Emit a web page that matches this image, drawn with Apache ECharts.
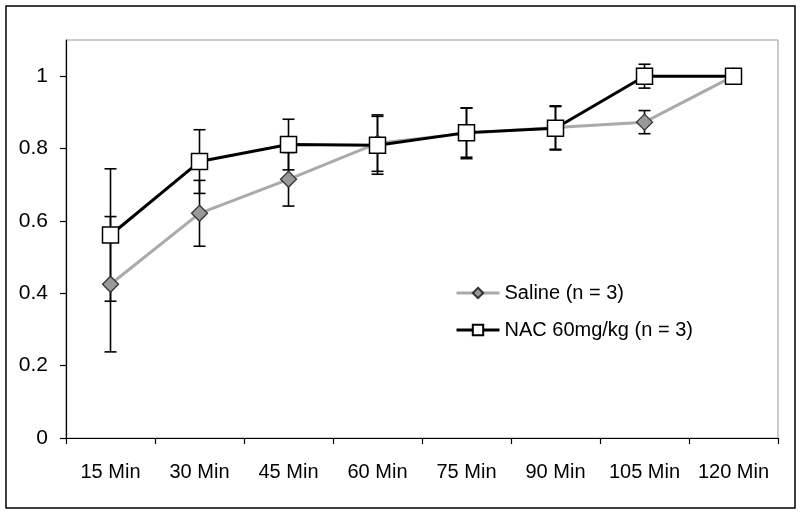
<!DOCTYPE html>
<html><head><meta charset="utf-8">
<script src="https://cdn.jsdelivr.net/npm/echarts@6/dist/echarts.min.js"></script>
<style>html,body{margin:0;padding:0;background:#fff}#c{width:800px;height:514px}</style>
</head><body><div id="c"></div>
<script>
const categories = ['15 Min','30 Min','45 Min','60 Min','75 Min','90 Min','105 Min','120 Min'];
const salineMean = [0.425, 0.621, 0.715, 0.815, 0.842, 0.858, 0.873, 1.0];
const salineErr  = [0.187, 0.091, 0.074, 0.078, 0.070, 0.060, 0.032, 0.0];
const nacMean    = [0.561, 0.764, 0.811, 0.809, 0.844, 0.856, 1.0, 1.0];
const nacErr     = [0.183, 0.088, 0.070, 0.080, 0.068, 0.060, 0.033, 0.0];
const yTicks = [0, 0.2, 0.4, 0.6, 0.8, 1];

function errData(mean, err){ return mean.map((m,i)=>[i, m-err[i], m+err[i]]); }
function errRender(params, api){
  const i = api.value(0);
  const lo = api.coord([i, api.value(1)]);
  const hi = api.coord([i, api.value(2)]);
  const w = 6;
  const st = {stroke:'#000', lineWidth:1.6};
  return {type:'group', children:[
    {type:'line', shape:{x1:lo[0],y1:lo[1],x2:hi[0],y2:hi[1]}, style:st},
    {type:'line', shape:{x1:lo[0]-w,y1:lo[1],x2:lo[0]+w,y2:lo[1]}, style:st},
    {type:'line', shape:{x1:hi[0]-w,y1:hi[1],x2:hi[0]+w,y2:hi[1]}, style:st}
  ]};
}
const font = 'Liberation Sans, Arial, sans-serif';
const chart = echarts.init(document.getElementById('c'), null, {renderer:'canvas'});
chart.setOption({
  animation:false,
  backgroundColor:'#fff',
  graphic:[{type:'rect', shape:{x:6,y:6,width:789,height:502}, style:{fill:'none', stroke:'#000', lineWidth:1.5}, z:0}],
  grid:{left:66, right:22, top:40, bottom:76, show:true, borderColor:'#999', borderWidth:1, backgroundColor:'transparent'},
  legend:{
    orient:'vertical', left:450, top:278, itemGap:17, itemWidth:43, itemHeight:13,
    textStyle:{fontFamily:font, fontSize:20, color:'#000'},
    lineStyle:{width:3, color:'inherit'},
    data:['Saline (n = 3)','NAC 60mg/kg (n = 3)']
  },
  xAxis:{
    type:'category', data:categories, boundaryGap:true,
    axisLine:{lineStyle:{color:'#000', width:1.2}},
    axisTick:{show:true, interval:0, length:6, lineStyle:{color:'#000', width:1.2}},
    axisLabel:{fontFamily:font, fontSize:20, color:'#000', margin:24, interval:0, hideOverlap:false}
  },
  yAxis:{
    type:'value', min:0, max:1.1, interval:0.2,
    splitLine:{show:false},
    axisLine:{show:true, lineStyle:{color:'#000', width:1.2}},
    axisTick:{show:true, length:6, customValues:yTicks, lineStyle:{color:'#000', width:1.2}},
    axisLabel:{fontFamily:font, fontSize:21, color:'#000', margin:18, customValues:yTicks,
      formatter:function(v){ return String(+(+v).toFixed(1)); }}
  },
  series:[
    {type:'custom', name:'errSaline', renderItem:errRender, data:errData(salineMean, salineErr), z:1, silent:true},
    {type:'custom', name:'errNac', renderItem:errRender, data:errData(nacMean, nacErr), z:1, silent:true},
    {type:'line', name:'Saline (n = 3)', data:salineMean, z:3,
      symbol:'diamond', symbolSize:[16,16], showAllSymbol:true,
      lineStyle:{color:'#aaaaaa', width:3},
      itemStyle:{color:'#999999', borderColor:'#333', borderWidth:1.3}},
    {type:'line', name:'NAC 60mg/kg (n = 3)', data:nacMean, z:4,
      symbol:'rect', symbolSize:16, showAllSymbol:true,
      lineStyle:{color:'#000', width:3},
      itemStyle:{color:'#fff', borderColor:'#000', borderWidth:1.5}}
  ]
});
</script></body></html>
